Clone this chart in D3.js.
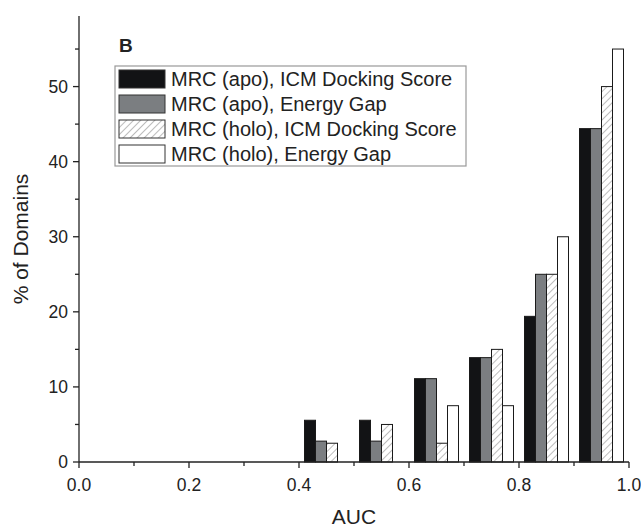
<!DOCTYPE html>
<html>
<head>
<meta charset="utf-8">
<script src="https://cdn.jsdelivr.net/npm/d3@7"></script>
<style>
  body { margin: 0; background: #fff; }
  text { font-family: "Liberation Sans", Arial, sans-serif; fill: #222; }
</style>
</head>
<body>
<div id="chart"></div>
<script>
// bins are AUC lower edges, one group of 4 bars per bin
var bins = [0.4, 0.5, 0.6, 0.7, 0.8, 0.9];
var seriesNames = ["MRC (apo), ICM Docking Score", "MRC (apo), Energy Gap",
                   "MRC (holo), ICM Docking Score", "MRC (holo), Energy Gap"];
var apoDock  = [5.56, 5.56, 11.1, 13.9, 19.4, 44.4];
var apoGap   = [2.78, 2.78, 11.1, 13.9, 25.0, 44.4];
var holoDock = [2.5, 5.0, 2.5, 15.0, 25.0, 50.0];
var holoGap  = [0, 0, 7.5, 7.5, 30.0, 55.0];
var xTicks = [0, 0.2, 0.4, 0.6, 0.8, 1.0];
var yTicks = [0, 10, 20, 30, 40, 50];

var width = 641, height = 527
  , margin = { left: 79, right: 12, top: 16, bottom: 65 }
  , x0 = margin.left
  , yBase = height - margin.bottom;

var x = d3.scaleLinear().domain([0, 1]).range([x0, 629]);
var y = d3.scaleLinear().domain([0, 59.4]).range([yBase, margin.top]);

var svg = d3.select("#chart").append("svg")
  .attr("width", width).attr("height", height);

var defs = svg.append("defs");
defs.append("pattern")
  .attr("id", "hatch")
  .attr("patternUnits", "userSpaceOnUse")
  .attr("width", 5).attr("height", 5)
  .attr("patternTransform", "rotate(45)")
  .append("line")
  .attr("x1", 0).attr("y1", 0).attr("x2", 0).attr("y2", 5)
  .attr("stroke", "#6a6a6a").attr("stroke-width", 0.9);

var fills = ["#121315", "#7b7e81", "url(#hatch)", "#ffffff"];
var allSeries = [apoDock, apoGap, holoDock, holoGap];

// bar width is 0.02 AUC, group padded by 0.01 at each side of the bin
var barW = 0.02;
var rows = [];
bins.forEach(function(b, i) {
  allSeries.forEach(function(s, j) {
    rows.push({ bin: b, k: j, v: s[i] });
  });
});

svg.append("g").selectAll("rect")
  .data(rows.filter(function(d) { return d.v > 0; }))
  .enter().append("rect")
  .attr("x", function(d) { return x(d.bin + 0.01 + d.k * barW); })
  .attr("width", function(d) { return x(barW) - x(0); })
  .attr("y", function(d) { return y(d.v); })
  .attr("height", function(d) { return y(0) - y(d.v); })
  .attr("fill", function(d) { return fills[d.k]; })
  .attr("stroke", "#1a1a1a")
  .attr("stroke-width", 1);

// x axis
var xAxis = svg.append("g").attr("transform", "translate(0," + yBase + ")");
xAxis.append("line").attr("x1", x(0)).attr("x2", x(1))
  .attr("stroke", "#222").attr("stroke-width", 1.3);
xAxis.selectAll(".minor").data(d3.range(0, 1.01, 0.1)).enter().append("line")
  .attr("x1", function(d) { return x(d); }).attr("x2", function(d) { return x(d); })
  .attr("y1", 0).attr("y2", function(d, i) { return i % 2 ? 4 : 6; })
  .attr("stroke", "#222").attr("stroke-width", 1.3);
xAxis.selectAll("text").data(xTicks).enter().append("text")
  .attr("x", function(d) { return x(d); }).attr("y", 29)
  .attr("text-anchor", "middle").style("font-size", "17.5px")
  .text(function(d) { return d3.format(".1f")(d); });

// y axis
var yAxis = svg.append("g").attr("transform", "translate(" + x0 + ",0)");
yAxis.append("line").attr("y1", y(0)).attr("y2", margin.top)
  .attr("stroke", "#222").attr("stroke-width", 1.3);
yAxis.selectAll(".minor").data(d3.range(0, 56, 5)).enter().append("line")
  .attr("y1", function(d) { return y(d); }).attr("y2", function(d) { return y(d); })
  .attr("x1", function(d, i) { return i % 2 ? -4 : -6; }).attr("x2", 0)
  .attr("stroke", "#222").attr("stroke-width", 1.3);
yAxis.selectAll("text").data(yTicks).enter().append("text")
  .attr("x", -11).attr("y", function(d) { return y(d); })
  .attr("dy", "0.36em").attr("text-anchor", "end").style("font-size", "17.5px")
  .text(function(d) { return d; });

svg.append("text").attr("x", x(0.5)).attr("y", 524)
  .attr("text-anchor", "middle").style("font-size", "21px").text("AUC");
svg.append("text")
  .attr("transform", "translate(28," + y(29.7) + ") rotate(-90)")
  .attr("text-anchor", "middle").style("font-size", "21px").text("% of Domains");

svg.append("text").attr("x", 119).attr("y", 52)
  .style("font-size", "19px").style("font-weight", "bold").text("B");

// legend
var legend = svg.append("g").attr("transform", "translate(115,66)");
legend.append("rect").attr("width", 351).attr("height", 100)
  .attr("fill", "#fff").attr("stroke", "#999").attr("stroke-width", 1.2);
var items = legend.selectAll(".item").data(seriesNames).enter().append("g")
  .attr("transform", function(d, i) { return "translate(4," + (4 + i * 25) + ")"; });
items.append("rect").attr("width", 46).attr("height", 18)
  .attr("fill", function(d, i) { return fills[i]; })
  .attr("stroke", "#333").attr("stroke-width", 1);
items.append("text").attr("x", 52).attr("y", 9).attr("dy", "0.36em")
  .style("font-size", "20px").text(function(d) { return d; });
</script>
</body>
</html>
